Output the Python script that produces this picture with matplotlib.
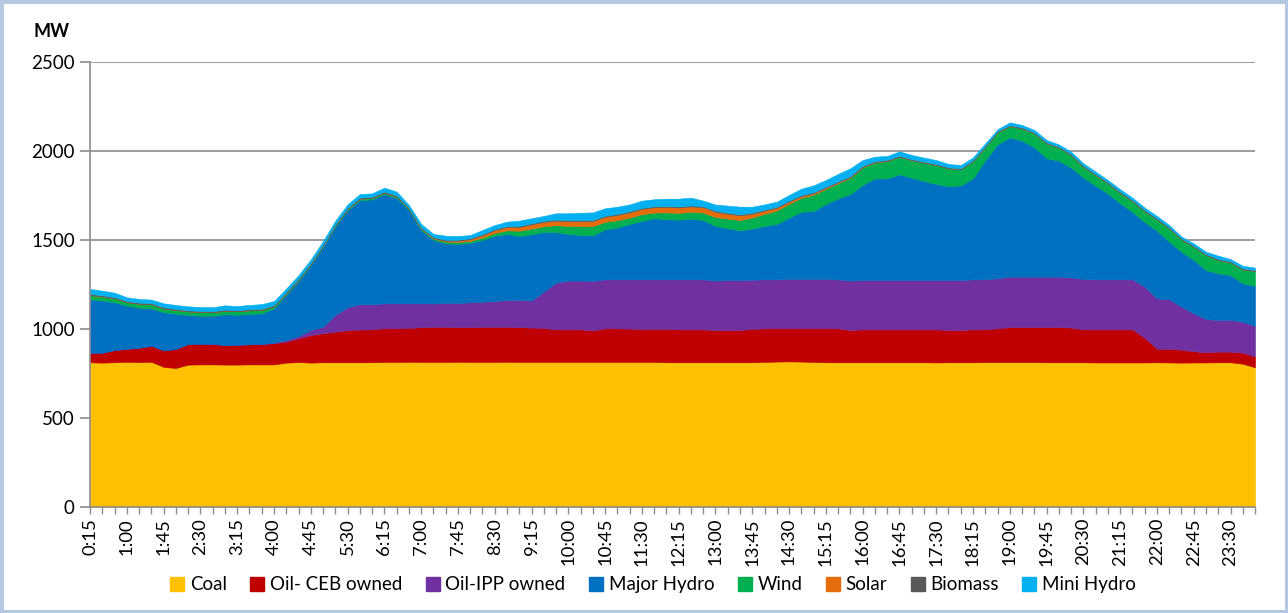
import matplotlib.pyplot as plt
from matplotlib.patches import Patch, Rectangle

plt.rcParams['font.family'] = ['Lato', 'DejaVu Sans']

# 15-minute slots, 0:15 .. 24:00
times = ['%d:%02d' % divmod(m, 60) for m in range(15, 24 * 60 + 1, 15)]

coal = [813, 811, 813, 816, 814, 816, 787, 781, 800, 801, 801, 800, 800, 801, 801, 801,
        811, 814, 811, 813, 813, 813, 813, 813, 815, 815, 816, 815, 815, 815, 816, 815,
        815, 815, 816, 815, 815, 815, 815, 815, 815, 815, 815, 815, 815, 815, 815, 813,
        813, 813, 813, 813, 813, 813, 813, 815, 817, 818, 817, 815, 813, 813, 813, 813,
        813, 813, 813, 813, 813, 812, 813, 813, 813, 814, 814, 814, 814, 814, 813, 813,
        813, 813, 812, 812, 812, 812, 812, 813, 812, 811, 812, 812, 813, 813, 805, 785]
oil_ceb = [54, 56, 69, 73, 81, 90, 93, 107, 116, 116, 115, 110, 112, 113, 115, 119,
           118, 134, 155, 163, 172, 180, 184, 185, 189, 189, 190, 195, 197, 197, 194, 195,
           197, 197, 196, 195, 193, 190, 183, 183, 183, 176, 189, 189, 187, 185, 185, 187,
           185, 185, 185, 181, 181, 181, 187, 189, 187, 186, 187, 189, 191, 191, 181, 185,
           185, 185, 185, 185, 185, 186, 181, 181, 185, 184, 190, 196, 196, 196, 197, 197,
           195, 185, 186, 186, 186, 186, 139, 76, 77, 73, 63, 57, 60, 60, 62, 60]
oil_ipp = [0, 0, 0, 0, 0, 0, 0, 0, 0, 0, 0, 0, 0, 0, 0, 3,
           9, 13, 28, 37, 94, 129, 142, 141, 140, 140, 138, 134, 132, 134, 136, 140,
           141, 145, 151, 153, 152, 205, 262, 274, 274, 279, 275, 275, 277, 279, 279, 279,
           281, 281, 281, 278, 281, 281, 277, 275, 275, 277, 277, 277, 277, 275, 278, 277,
           277, 277, 277, 277, 277, 277, 281, 281, 281, 281, 281, 284, 284, 284, 284, 284,
           282, 283, 281, 281, 281, 281, 287, 283, 278, 241, 213, 187, 178, 178, 174, 172]
major_hydro = [300, 293, 268, 242, 225, 210, 214, 198, 163, 158, 159, 173, 168, 171, 172, 193,
               256, 309, 365, 449, 498, 545, 585, 589, 614, 592, 525, 412, 356, 335, 332, 335,
               347, 367, 371, 359, 372, 335, 285, 262, 256, 256, 281, 292, 311, 328, 343, 338,
               335, 341, 333, 307, 291, 279, 287, 300, 311, 344, 378, 382, 421, 455, 486, 534,
               571, 571, 594, 575, 556, 540, 528, 532, 567, 670, 752, 783, 764, 727, 665, 652,
               617, 569, 526, 482, 427, 378, 363, 380, 323, 309, 300, 275, 262, 252, 216, 226]
wind = [24, 23, 23, 20, 22, 23, 22, 21, 20, 20, 19, 20, 20, 20, 20, 12,
        8, 7, 6, 6, 6, 7, 8, 8, 8, 8, 8, 8, 8, 10, 10, 10,
        14, 16, 20, 30, 32, 32, 38, 45, 50, 52, 42, 40, 36, 38, 32, 38,
        38, 38, 42, 50, 54, 58, 62, 68, 76, 78, 78, 92, 85, 85, 92, 99,
        89, 98, 99, 99, 104, 106, 100, 90, 98, 75, 70, 63, 69, 78, 84, 73,
        71, 62, 60, 58, 60, 62, 62, 64, 76, 70, 75, 85, 75, 72, 78, 83]
solar = [0, 0, 0, 0, 0, 0, 0, 0, 0, 0, 0, 0, 0, 0, 0, 0,
         0, 0, 0, 0, 0, 0, 0, 0, 0, 0, 0, 1, 3, 5, 8, 10,
         13, 16, 19, 22, 24, 25, 26, 27, 28, 29, 29, 30, 30, 30, 30, 31,
         31, 31, 30, 30, 28, 27, 22, 18, 15, 12, 10, 8, 7, 5, 4, 3,
         2, 1, 0, 0, 0, 0, 0, 0, 0, 0, 0, 0, 0, 0, 0, 0,
         0, 0, 0, 0, 0, 0, 0, 0, 0, 0, 0, 0, 0, 0, 0, 0]
biomass = [6, 6, 6, 6, 6, 6, 6, 6, 6, 6, 6, 6, 6, 6, 6, 6,
           6, 6, 6, 6, 6, 6, 6, 6, 6, 6, 5, 5, 5, 5, 5, 5,
           5, 5, 5, 5, 5, 5, 5, 5, 5, 5, 5, 5, 5, 5, 5, 5,
           5, 5, 5, 5, 5, 5, 5, 5, 5, 5, 5, 5, 5, 5, 5, 5,
           5, 5, 5, 5, 5, 5, 5, 5, 5, 5, 5, 5, 5, 5, 5, 5,
           5, 5, 5, 5, 5, 5, 5, 5, 5, 5, 5, 5, 5, 5, 5, 5]
mini_hydro = [28, 26, 25, 21, 21, 20, 22, 22, 22, 23, 22, 24, 23, 24, 26, 23,
              20, 20, 20, 20, 20, 20, 20, 20, 22, 22, 15, 20, 18, 23, 21, 18,
              24, 23, 25, 30, 29, 28, 36, 39, 42, 43, 42, 41, 39, 41, 40, 41,
              44, 44, 32, 35, 40, 43, 34, 30, 29, 33, 36, 39, 38, 42, 44, 33,
              26, 22, 25, 24, 23, 23, 19, 19, 15, 14, 10, 16, 14, 14, 14, 13,
              13, 14, 14, 13, 14, 14, 14, 14, 13, 10, 13, 13, 19, 13, 15, 14]

names = ['Coal', 'Oil- CEB owned', 'Oil-IPP owned', 'Major Hydro', 'Wind', 'Solar',
         'Biomass', 'Mini Hydro']
colors = ['#FFC000', '#C00000', '#7030A0', '#0070C0', '#00B050', '#E46C0A',
          '#595959', '#00B0F0']

fig = plt.figure(figsize=(12.88, 6.13), dpi=100)
fig.patches.append(Rectangle((0, 0), 1, 1, transform=fig.transFigure, fill=False,
                             edgecolor='#b4c8e2', lw=5))
ax = fig.add_axes([0.0699, 0.1729, 0.9045, 0.726])

x = list(range(len(times)))
polys = ax.stackplot(x, coal, oil_ceb, oil_ipp, major_hydro, wind, solar, biomass,
                     mini_hydro, colors=colors)
for p, c in zip(polys, colors):
    p.set_edgecolor(c)
    p.set_linewidth(0.4)

ax.set_xlim(0, len(times) - 1)
ax.set_ylim(0, 2500)
ax.set_yticks(range(0, 2501, 500))
ax.set_axisbelow(True)
ax.yaxis.grid(True, color='#8c8c8c', lw=1.2)

ax.set_xticks(x)
ax.set_xticklabels([t if i % 3 == 0 else '' for i, t in enumerate(times)], rotation=90)

for s in ['top', 'right']:
    ax.spines[s].set_visible(False)
for s in ['left', 'bottom']:
    ax.spines[s].set_color('#8c8c8c')
    ax.spines[s].set_linewidth(1.2)
ax.tick_params(axis='y', length=7, color='#8c8c8c', width=1.2, labelsize=13.5, pad=4)
ax.tick_params(axis='x', length=5, color='#8c8c8c', width=1, labelsize=13.3, pad=3)

fig.text(0.026, 0.948, 'MW', fontsize=13, fontweight='bold', va='center')

handles = [Patch(facecolor=c, edgecolor=c) for c in colors]
fig.legend(handles, names, loc='center', bbox_to_anchor=(0.507, 0.046), ncol=8,
           frameon=False, fontsize=13.5, handlelength=0.75, handleheight=0.75,
           handletextpad=0.3, columnspacing=1.25)

fig.savefig('out.png', dpi=100)
